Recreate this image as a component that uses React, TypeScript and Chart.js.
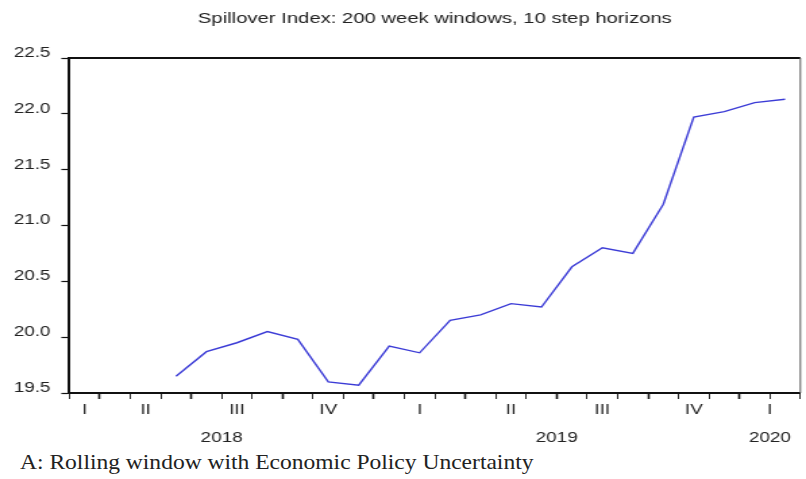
import { useEffect, useRef } from 'react';
import { Chart, registerables } from 'chart.js';

Chart.register(...registerables);

// ---- data ----
const axisStart = '2018-03';
const axisEnd = '2020-03';
const months = [
  '2018-06', '2018-07', '2018-08', '2018-09', '2018-10', '2018-11', '2018-12',
  '2019-01', '2019-02', '2019-03', '2019-04', '2019-05', '2019-06', '2019-07',
  '2019-08', '2019-09', '2019-10', '2019-11', '2019-12', '2020-01', '2020-02',
];
const spillover = [
  19.65, 19.87, 19.95, 20.05, 19.98, 19.6, 19.57,
  19.92, 19.86, 20.15, 20.2, 20.3, 20.27, 20.63,
  20.8, 20.75, 21.19, 21.97, 22.02, 22.1, 22.13,
];
const quarterNames = ['I', 'II', 'III', 'IV'];
const yTicks = [19.5, 20.0, 20.5, 21.0, 21.5, 22.0, 22.5];
const titleText = 'Spillover Index: 200 week windows, 10 step horizons';
const captionText = 'A: Rolling window with Economic Policy Uncertainty';

// ---- layout ----
const W = 597;
const H = 447;
const STRETCH = 806 / W;
const SANS = '"Liberation Sans", Arial, sans-serif';
const INK = '#222';
const LINE = '#3c3cd6';

const absMonth = (ym: string) => {
  const [y, m] = ym.split('-').map(Number);
  return y * 12 + (m - 1);
};
const startAbs = absMonth(axisStart);
const monthPos = (ym: string) => absMonth(ym) - startAbs;
const spanMonths = monthPos(axisEnd);

// quarter and year labels, centred on the visible part of each period
const quarterTicks: { value: number; label: string }[] = [];
const yearTicks: { value: number; label: string }[] = [];
{
  const firstYear = Math.floor(startAbs / 12);
  const lastYear = Math.floor((startAbs + spanMonths - 1) / 12);
  for (let y = firstYear; y <= lastYear; y++) {
    const ys = Math.max(y * 12 - startAbs, 0);
    const ye = Math.min((y + 1) * 12 - startAbs, spanMonths);
    if (ye > ys) yearTicks.push({ value: (ys + ye) / 2, label: String(y) });
    for (let q = 0; q < 4; q++) {
      const qs = Math.max(y * 12 + q * 3 - startAbs, 0);
      const qe = Math.min(y * 12 + q * 3 + 3 - startAbs, spanMonths);
      if (qe > qs) quarterTicks.push({ value: (qs + qe) / 2, label: quarterNames[q] });
    }
  }
}

const framePlugin = {
  id: 'frameAndTitle',
  afterDraw(chart: any) {
    const { ctx, chartArea } = chart;
    const { left, right, top, bottom } = chartArea;
    ctx.save();
    ctx.strokeStyle = '#111';
    ctx.lineWidth = 2;
    ctx.beginPath();
    ctx.moveTo(left, top);
    ctx.lineTo(right, top);
    ctx.stroke();
    ctx.strokeStyle = '#555';
    ctx.lineWidth = 1;
    ctx.beginPath();
    ctx.moveTo(right, top);
    ctx.lineTo(right, bottom);
    ctx.stroke();
    ctx.fillStyle = INK;
    ctx.font = `15px ${SANS}`;
    ctx.textAlign = 'center';
    ctx.textBaseline = 'alphabetic';
    ctx.fillText(titleText, (left + right) / 2, top - 35);
    ctx.restore();
  },
};

export default function App() {
  const ref = useRef<HTMLCanvasElement>(null);

  useEffect(() => {
    document.body.style.margin = '0';
    const canvas = ref.current;
    if (!canvas) return;
    const chart = new Chart(canvas, {
      type: 'line',
      data: {
        datasets: [
          {
            label: 'Spillover Index',
            data: months.map((m, i) => ({ x: monthPos(m) + 0.5, y: spillover[i] })),
            borderColor: LINE,
            borderWidth: 1.4,
            pointRadius: 0,
            tension: 0,
            fill: false,
            xAxisID: 'x',
            yAxisID: 'y',
          },
        ],
      },
      options: {
        responsive: false,
        animation: false,
        events: [],
        layout: { padding: { top: 58, right: 1, left: 0, bottom: 0 } },
        plugins: {
          legend: { display: false },
          tooltip: { enabled: false },
          title: { display: false },
        },
        scales: {
          y: {
            type: 'linear',
            position: 'left',
            min: yTicks[0],
            max: yTicks[yTicks.length - 1],
            afterBuildTicks: (scale: any) => {
              scale.ticks = yTicks.map((v) => ({ value: v }));
            },
            afterFit: (scale: any) => {
              scale.width = 51.4;
            },
            ticks: {
              color: INK,
              font: { family: SANS, size: 14 },
              padding: 8,
              labelOffset: -5,
              callback: (v: any) => Number(v).toFixed(1),
            },
            grid: {
              drawOnChartArea: false,
              drawTicks: true,
              tickLength: 6,
              tickColor: '#111',
              tickWidth: 1.2,
            },
            border: { display: true, color: '#111', width: 2 },
          },
          x: {
            type: 'linear',
            position: 'bottom',
            weight: 0,
            min: 0,
            max: spanMonths,
            afterBuildTicks: (scale: any) => {
              const t = [];
              for (let i = 0; i <= spanMonths; i++) t.push({ value: i });
              scale.ticks = t;
            },
            afterFit: (scale: any) => {
              scale.height = 6;
            },
            ticks: { display: false, autoSkip: false },
            grid: {
              drawOnChartArea: false,
              drawTicks: true,
              tickLength: 6,
              tickColor: '#111',
              tickWidth: (ctx: any) =>
                ((startAbs + (ctx.tick ? ctx.tick.value : 0)) % 3 === 0 ? 1.6 : 0.9),
            },
            border: { display: true, color: '#111', width: 2 },
          },
          xq: {
            type: 'linear',
            position: 'bottom',
            weight: 1,
            min: 0,
            max: spanMonths,
            afterBuildTicks: (scale: any) => {
              scale.ticks = quarterTicks.map((q) => ({ value: q.value }));
            },
            afterFit: (scale: any) => {
              scale.height = 20;
            },
            ticks: {
              autoSkip: false,
              maxRotation: 0,
              color: INK,
              padding: 3,
              font: { family: SANS, size: 14 },
              callback: (_v: any, i: number) => quarterTicks[i].label,
            },
            grid: { display: false, drawTicks: false },
            border: { display: false },
          },
          xy: {
            type: 'linear',
            position: 'bottom',
            weight: 2,
            min: 0,
            max: spanMonths,
            afterBuildTicks: (scale: any) => {
              scale.ticks = yearTicks.map((q) => ({ value: q.value }));
            },
            afterFit: (scale: any) => {
              scale.height = 28;
            },
            ticks: {
              autoSkip: false,
              maxRotation: 0,
              color: INK,
              padding: 11,
              font: { family: SANS, size: 14 },
              callback: (_v: any, i: number) => yearTicks[i].label,
            },
            grid: { display: false, drawTicks: false },
            border: { display: false },
          },
        },
      },
      plugins: [framePlugin],
    } as any);
    return () => chart.destroy();
  }, []);

  return (
    <div style={{ position: 'relative', width: 806, height: 479, overflow: 'hidden', background: '#fff' }}>
      <div
        style={{
          position: 'absolute',
          left: 0,
          top: 0,
          width: W,
          height: H,
          transform: `scaleX(${STRETCH})`,
          transformOrigin: '0 0',
        }}
      >
        <canvas ref={ref} width={W} height={H} style={{ display: 'block' }} />
      </div>
      <div
        style={{
          position: 'absolute',
          left: 20,
          top: 452,
          fontFamily: '"Liberation Serif", "Times New Roman", serif',
          fontSize: 21,
          lineHeight: '21px',
          whiteSpace: 'nowrap',
          color: INK,
          transform: 'scaleX(1.12)',
          transformOrigin: '0 0',
        }}
      >
        {captionText}
      </div>
    </div>
  );
}
